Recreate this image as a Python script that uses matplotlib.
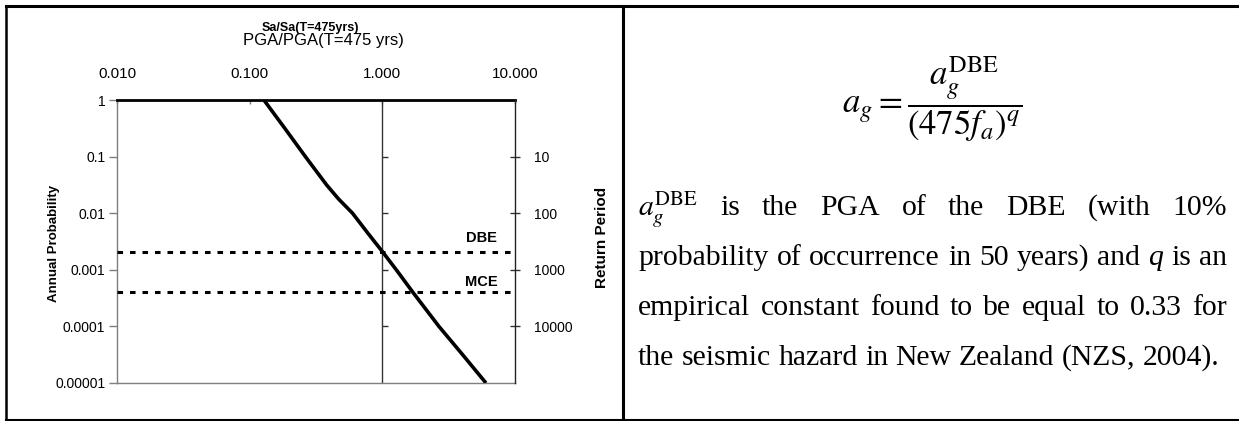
import matplotlib
matplotlib.use('Agg')
import matplotlib.pyplot as plt
from matplotlib.lines import Line2D
from matplotlib.ticker import NullLocator
import matplotlib.transforms as mtransforms

plt.rcParams['font.family'] = ['Liberation Sans', 'DejaVu Sans']

# ---------------- data ----------------
pga_ratio = [0.128, 0.184, 0.263, 0.380, 0.468, 0.596, 0.776, 1.00, 1.274, 1.70, 2.67, 4.03, 6.04]
annual_prob = [1, 0.316, 0.1, 0.0316, 0.0178, 0.01, 0.00447, 0.0021, 0.001, 0.0004, 0.0001, 0.0000316, 0.00001]
dbe_prob = 1 / 475
mce_prob = 1 / 2500
level_names = ['DBE', 'MCE']
x_ticks = [0.01, 0.1, 1, 10]
x_tick_labels = ['0.010', '0.100', '1.000', '10.000']
y_ticks = [1, 0.1, 0.01, 0.001, 0.0001, 0.00001]
y_tick_labels = ['1', '0.1', '0.01', '0.001', '0.0001', '0.00001']
rp_ticks = [10, 100, 1000, 10000]
rp_tick_labels = ['10', '100', '1000', '10000']

W, H = 1239, 421
fig = plt.figure(figsize=(W / 100, H / 100), dpi=100)


def fx(px):
    return px / W


def fy(py):
    return 1 - py / H


GRAY = '#7f7f7f'
ax = fig.add_axes([fx(117), fy(383), fx(515) - fx(117), fy(100) - fy(383)])
ax.set_xscale('log')
ax.set_yscale('log')
ax.set_xlim(0.01, 10)
ax.set_ylim(1e-5, 1)

ax.plot(pga_ratio, annual_prob, color='black', lw=2.6, solid_capstyle='butt',
        solid_joinstyle='round', zorder=4)
dash = (4.0 / 2.2, 5.0 / 2.2)
for p in (dbe_prob, mce_prob):
    ax.axhline(p, color='black', lw=2.2, dashes=dash, zorder=3)

# Vertical axis crossing at 1.0 with its own small ticks
ax.axvline(1, color='#333333', lw=1.0, zorder=2)
ax.plot([1] * len(y_ticks[1:-1]), y_ticks[1:-1], ls='none', marker=1, ms=4,
        mew=1.0, color='#333333', zorder=2)

trans = mtransforms.blended_transform_factory(ax.transAxes, ax.transData)
ax.text(0.915, dbe_prob * 1.74, level_names[0], transform=trans, ha='center', va='center',
        fontsize=10.5, fontweight='bold')
ax.text(0.915, mce_prob * 1.52, level_names[1], transform=trans, ha='center', va='center',
        fontsize=10.5, fontweight='bold')

# spines
ax.spines['top'].set_linewidth(2.0)
ax.spines['top'].set_color('black')
for s in ('left', 'bottom'):
    ax.spines[s].set_color(GRAY)
    ax.spines[s].set_linewidth(1.0)
ax.spines['right'].set_visible(False)

ax.xaxis.set_ticks_position('top')
ax.set_xticks(x_ticks)
ax.set_xticklabels(x_tick_labels)
ax.xaxis.set_minor_locator(NullLocator())
ax.tick_params(axis='x', which='major', direction='in', length=3, width=1, color=GRAY,
               pad=14, labelsize=11)
ax.set_yticks(y_ticks)
ax.set_yticklabels(y_tick_labels)
ax.yaxis.set_minor_locator(NullLocator())
ax.tick_params(axis='y', which='major', direction='out', length=5.5, width=1, color=GRAY,
               pad=3, labelsize=10)

ax2 = ax.twinx()
ax2.set_yscale('log')
ax2.set_ylim(1e5, 1)
ax2.set_yticks(rp_ticks)
ax2.set_yticklabels(rp_tick_labels)
ax2.yaxis.set_minor_locator(NullLocator())
ax2.tick_params(axis='y', which='major', direction='inout', length=7, width=1, color='#333333',
                pad=10, labelsize=10)
for s in ('top', 'left', 'bottom'):
    ax2.spines[s].set_visible(False)
ax2.spines['right'].set_color('#222222')
ax2.spines['right'].set_linewidth(1.0)

# titles and axis labels
fig.text(fx(310), fy(28), 'Sa/Sa(T=475yrs)', ha='center', va='center', fontsize=9,
         fontweight='bold')
fig.text(fx(323), fy(40.5), 'PGA/PGA(T=475 yrs)', ha='center', va='center', fontsize=12)
fig.text(fx(54), fy(243), 'Annual Probability', ha='center', va='center', rotation=90,
         fontsize=9.5, fontweight='bold')
fig.text(fx(602), fy(237), 'Return Period', ha='center', va='center', rotation=90,
         fontsize=11, fontweight='bold')

# frame lines
fig.add_artist(Line2D([fx(6), 1], [fy(6), fy(6)], lw=2.2, color='black'))
fig.add_artist(Line2D([fx(6), fx(6)], [fy(6), fy(420)], lw=1.8, color='black'))
fig.add_artist(Line2D([fx(622.5), fx(622.5)], [fy(6), fy(420)], lw=2.2, color='black'))
fig.add_artist(Line2D([fx(6), 1], [fy(420), fy(420)], lw=1.5, color='black'))

# right panel: formula
fig.text(fx(932), fy(99), r'$a_g = \dfrac{a_g^{\mathrm{DBE}}}{\left(475 f_a\right)^{q}}$',
         ha='center', va='center', fontsize=25, math_fontfamily='stix')

# right panel: justified paragraph
renderer = fig.canvas.get_renderer()


def place_line(tokens, y_base, x0, x1, justify=True, fontsize=21.4):
    texts = []
    for tok, style in tokens:
        t = fig.text(fx(x0), fy(y_base), tok, fontsize=fontsize, family='Liberation Serif',
                     style=style, va='baseline', ha='left', math_fontfamily='stix')
        texts.append(t)
    widths = [t.get_window_extent(renderer).width for t in texts]
    if justify and len(texts) > 1:
        gap = (x1 - x0 - sum(widths)) / (len(texts) - 1)
    else:
        gap = fontsize * 0.25 * 100 / 72
    x = x0
    for t, w in zip(texts, widths):
        t.set_x(fx(x))
        x += w + gap


def words(s):
    return [(w, 'normal') for w in s.split()]


X0, X1 = 638, 1227
line1 = [(r'$a_g^{\mathrm{DBE}}$', 'normal')] + words('is the PGA of the DBE (with 10%')
line2 = words('probability of occurrence in 50 years) and') + [('q', 'italic')] + words('is an')
line3 = words('empirical constant found to be equal to 0.33 for')
line4 = words('the seismic hazard in New Zealand (NZS, 2004).')
place_line(line1, 215, X0, X1)
place_line(line2, 265, X0, X1)
place_line(line3, 315, X0, X1)
place_line(line4, 365, X0, X1, justify=False)

fig.savefig('out.png', dpi=100)
